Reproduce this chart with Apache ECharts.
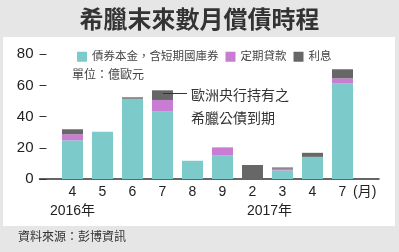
<!DOCTYPE html>
<html><head><meta charset="utf-8">
<script src="https://cdn.jsdelivr.net/npm/echarts@6/dist/echarts.min.js"></script>
<style>html,body{margin:0;padding:0;background:#e6e6e6;}#c{width:399px;height:252px;}</style>
</head><body><div id="c"></div>
<script>
const months = ['4','5','6','7','8','9','2','3','4','7'];
const yearLabels = {0:'2016年', 6:'2017年'};
const principal = [24.8, 30.3, 51.5, 43.2, 11.7, 15.3, 0, 5.5, 14.2, 61.4];
const termLoans = [3.9, 0, 0, 7.5, 0, 5.0, 0, 1.1, 0, 3.2];
const interest = [3.2, 0, 0.9, 6.2, 0, 0, 9.0, 0.8, 2.6, 5.8];
const seriesNames = ['債券本金，含短期國庫券','定期貸款','利息'];
const yTicks = {min:0, max:80, interval:20};
const FONT = "'Liberation Sans','Noto Sans CJK TC',sans-serif";

const chart = echarts.init(document.getElementById('c'), null, {renderer:'canvas'});
chart.setOption({
  backgroundColor:'#e6e6e6',
  animation:false,
  textStyle:{fontFamily:FONT},
  title:{text:'希臘末來數月償債時程', left:'center', top:4,
    textStyle:{fontSize:24, fontWeight:'bold', color:'#333', fontFamily:FONT}},
  graphic:[
    {type:'rect', z:-10, shape:{x:3,y:37,width:392,height:189}, style:{fill:'#ffffff'}},
    {type:'text', left:72, top:70, style:{text:'單位：億歐元', fontSize:12, fill:'#444', fontFamily:FONT}},
    {type:'line', shape:{x1:163,y1:93.5,x2:187,y2:93.5}, style:{stroke:'#333', lineWidth:1}, z:10},
    {type:'text', left:191, top:85, style:{text:'歐洲央行持有之\n希臘公債到期', fontSize:14, lineHeight:23, fill:'#333', fontFamily:FONT}},
    {type:'text', left:353, top:185, style:{text:'(月)', fontSize:14, fill:'#222', fontFamily:FONT}},
    {type:'text', left:18, top:232, style:{text:'資料來源：彭博資訊', fontSize:12, fill:'#333', fontFamily:FONT}}
  ],
  legend:{left:72, top:46, itemWidth:10, itemHeight:10, itemGap:7, icon:'rect',
    textStyle:{fontSize:11.5, color:'#444', fontFamily:FONT},
    data:seriesNames},
  grid:[
    {left:57.5, width:300, top:54.3, height:124.7},
    {left:39.5, width:339.5, top:54.3, height:124.7}
  ],
  xAxis:[
    {type:'category', gridIndex:0, data:months,
      axisLine:{show:false}, axisTick:{show:false},
      axisLabel:{margin:5, interval:0, color:'#222', fontSize:14,
        formatter:(v,i)=> yearLabels[i] ? '{m|'+v+'}\n{y'+i+'|'+yearLabels[i]+'}' : '{m|'+v+'}',
        rich:{m:{fontSize:14, lineHeight:16, color:'#222', fontFamily:FONT},
              y0:{fontSize:14, lineHeight:22, color:'#222', fontFamily:FONT},
              y6:{fontSize:14, lineHeight:22, color:'#222', fontFamily:FONT, padding:[0,0,0,34]}}}},
    {type:'value', gridIndex:1, min:0, max:1,
      axisLine:{show:true, lineStyle:{color:'#333', width:1.5}},
      axisTick:{show:false}, axisLabel:{show:false}, splitLine:{show:false}}
  ],
  yAxis:[
    {type:'value', gridIndex:0, min:yTicks.min, max:yTicks.max, interval:yTicks.interval, offset:11,
      axisLine:{show:false}, splitLine:{show:false},
      axisTick:{show:true, length:7, lineStyle:{color:'#333', width:1}},
      axisLabel:{margin:13, fontSize:15, color:'#222'}},
    {type:'value', gridIndex:1, show:false, min:0, max:1}
  ],
  series:[
    {name:seriesNames[0], type:'bar', stack:'t', data:principal, barWidth:21, itemStyle:{color:'#7dcaca'}, xAxisIndex:0, yAxisIndex:0},
    {name:seriesNames[1], type:'bar', stack:'t', data:termLoans, barWidth:21, itemStyle:{color:'#c87dd3'}, xAxisIndex:0, yAxisIndex:0},
    {name:seriesNames[2], type:'bar', stack:'t', data:interest, barWidth:21, itemStyle:{color:'#676767'}, xAxisIndex:0, yAxisIndex:0}
  ]
});
</script></body></html>
